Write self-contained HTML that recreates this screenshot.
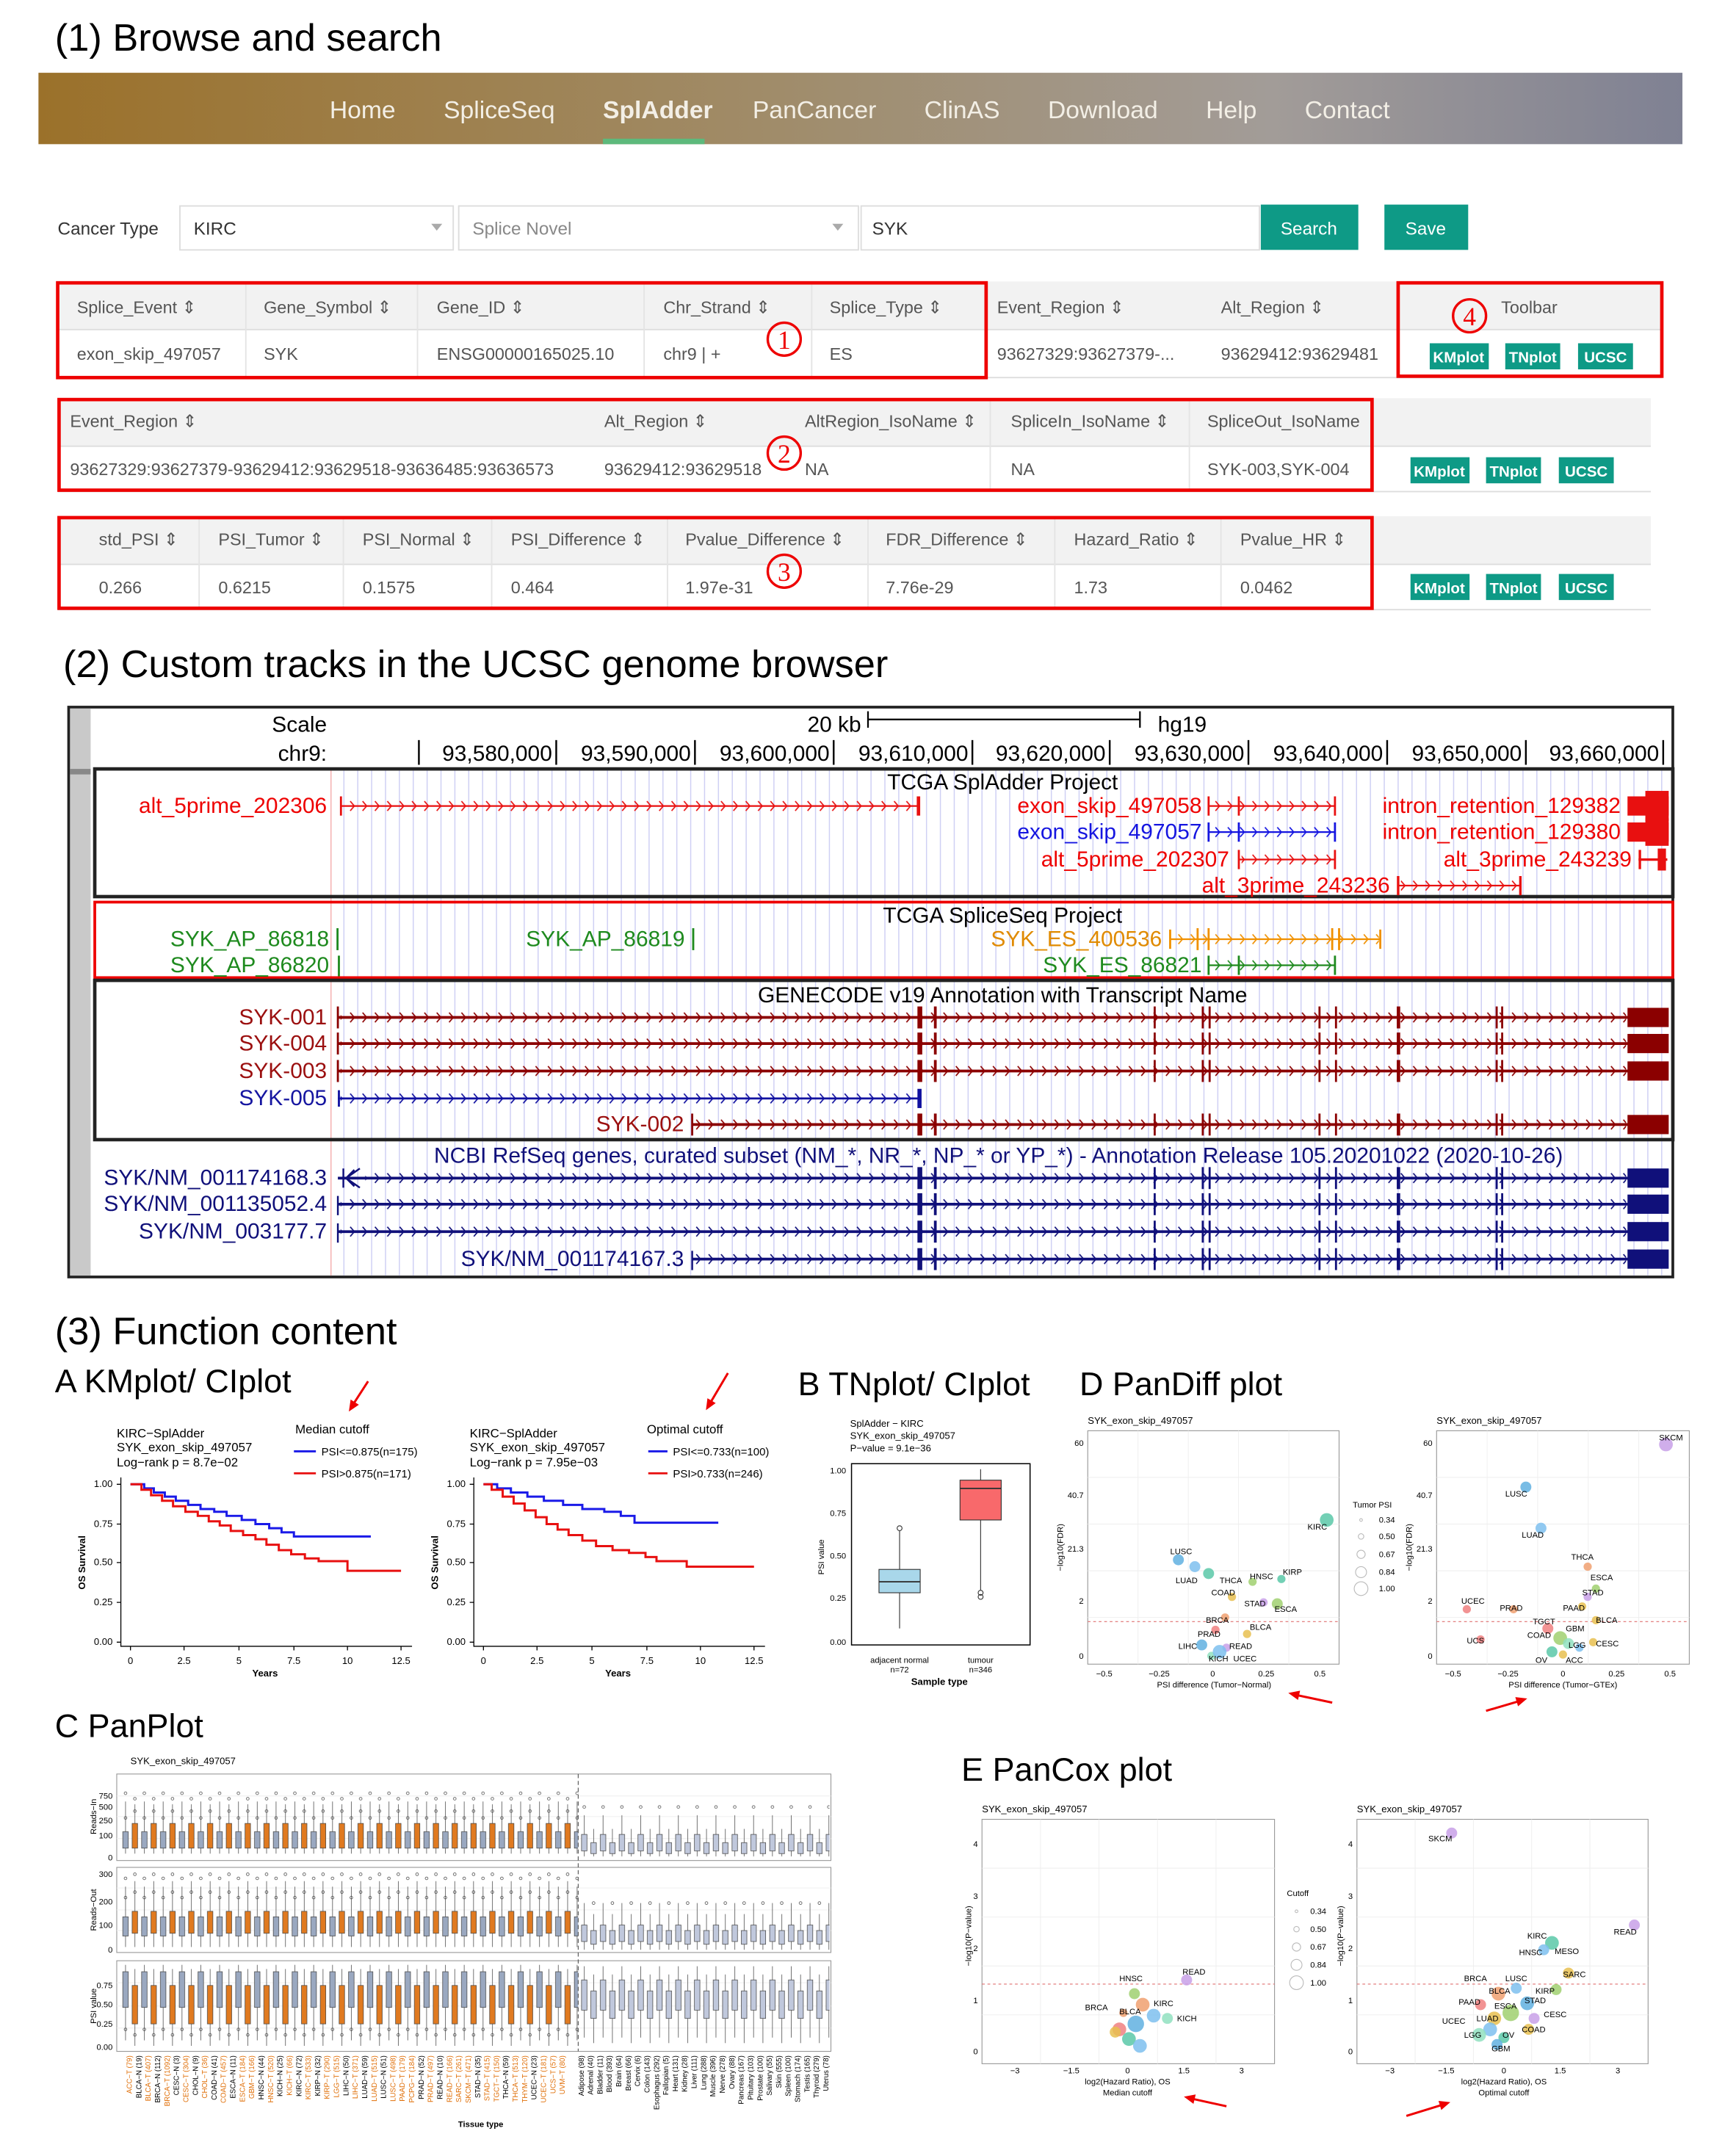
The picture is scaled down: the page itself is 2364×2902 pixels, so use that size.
<!DOCTYPE html>
<html><head><meta charset="utf-8"><style>
html,body{margin:0;padding:0;background:#fff}
svg{display:block}
text{font-family:"Liberation Sans",Arial,sans-serif}
.tt{font-size:28px;fill:#000}
.nav{font-size:18px;fill:#f3efe6}
.th{font-size:12.5px;fill:#555}
.td{font-size:12.5px;fill:#555}
.bt{font-size:11px;fill:#fff;font-weight:bold;text-anchor:middle}
.u{font-size:16px}
.s9{font-size:9px}
.s7{font-size:7px}
.s6{font-size:6px}
</style></head><body>
<svg xmlns="http://www.w3.org/2000/svg" xmlns:xlink="http://www.w3.org/1999/xlink" width="2364" height="2902" viewBox="0 0 1264 1552" preserveAspectRatio="none">
<defs>
<linearGradient id="ng" x1="0" x2="1" y1="0" y2="0">
<stop offset="0" stop-color="#9b712a"/><stop offset="0.45" stop-color="#a08c6a"/><stop offset="0.75" stop-color="#a29c98"/><stop offset="1" stop-color="#7f8193"/></linearGradient>
<pattern id="vl" x="250" y="0" width="10.1" height="20" patternUnits="userSpaceOnUse"><rect x="0" y="0" width="0.8" height="20" fill="#cfd0f4"/></pattern>
<pattern id="cR" width="9" height="20" patternUnits="userSpaceOnUse"><path d="M3 6.5L6 10L3 13.5" stroke="#e81010" fill="none" stroke-width="0.9"/></pattern>
<pattern id="cB" width="9" height="20" patternUnits="userSpaceOnUse"><path d="M3 6.5L6 10L3 13.5" stroke="#1515e0" fill="none" stroke-width="0.9"/></pattern>
<pattern id="cO" width="9" height="20" patternUnits="userSpaceOnUse"><path d="M3 6.5L6 10L3 13.5" stroke="#f09000" fill="none" stroke-width="0.9"/></pattern>
<pattern id="cG" width="9" height="20" patternUnits="userSpaceOnUse"><path d="M3 6.5L6 10L3 13.5" stroke="#1e8a1e" fill="none" stroke-width="0.9"/></pattern>
<pattern id="cD" width="9" height="20" patternUnits="userSpaceOnUse"><path d="M3 6.5L6 10L3 13.5" stroke="#8b0000" fill="none" stroke-width="0.9"/></pattern>
<pattern id="cN" width="9" height="20" patternUnits="userSpaceOnUse"><path d="M3 6.5L6 10L3 13.5" stroke="#10107a" fill="none" stroke-width="0.9"/></pattern>
<pattern id="cV" width="9" height="20" patternUnits="userSpaceOnUse"><path d="M3 6.5L6 10L3 13.5" stroke="#1010a0" fill="none" stroke-width="0.9"/></pattern>
<g id="exr">
<rect x="668" y="-8" width="3.5" height="16"/><rect x="680" y="-8" width="2" height="16"/><rect x="840" y="-8" width="1.5" height="16"/><rect x="875" y="-8" width="1.5" height="16"/><rect x="880" y="-8" width="1.5" height="16"/><rect x="960" y="-8" width="1.5" height="16"/><rect x="972" y="-8" width="1.5" height="16"/><rect x="1017" y="-8" width="2.5" height="16"/><rect x="1089" y="-8" width="1.5" height="16"/><rect x="1093" y="-8" width="1.5" height="16"/><rect x="1185" y="-7" width="30" height="14"/>
</g>
<!-- panplot patterns -->
<pattern id="p1" x="88" y="1292" width="13.7" height="63" patternUnits="userSpaceOnUse">
<path d="M3.4 20V58M10.2 22V58" stroke="#444" stroke-width="0.4"/>
<rect x="1.4" y="42" width="4" height="12" fill="#9aa8c0" stroke="#444" stroke-width="0.4"/>
<rect x="8.2" y="36" width="4" height="18" fill="#e07a20" stroke="#444" stroke-width="0.4"/>
<g fill="none" stroke="#444" stroke-width="0.4"><circle cx="3.4" cy="32" r="1"/><circle cx="3.4" cy="14" r="1"/><circle cx="10.2" cy="18" r="1"/><circle cx="10.2" cy="27" r="1"/></g>
</pattern>
<pattern id="p2" x="88" y="1360" width="13.7" height="62" patternUnits="userSpaceOnUse">
<path d="M3.4 14V58M10.2 10V58" stroke="#444" stroke-width="0.4"/>
<rect x="1.4" y="36" width="4" height="14" fill="#9aa8c0" stroke="#444" stroke-width="0.4"/>
<rect x="8.2" y="32" width="4" height="16" fill="#e07a20" stroke="#444" stroke-width="0.4"/>
<g fill="none" stroke="#444" stroke-width="0.4"><circle cx="3.4" cy="8" r="1"/><circle cx="3.4" cy="22" r="1"/><circle cx="10.2" cy="5" r="1"/><circle cx="10.2" cy="18" r="1"/></g>
</pattern>
<pattern id="p3" x="88" y="1428" width="13.7" height="66" patternUnits="userSpaceOnUse">
<path d="M3.4 3V58M10.2 6V62" stroke="#444" stroke-width="0.4"/>
<rect x="1.4" y="8" width="4" height="26" fill="#9aa8c0" stroke="#444" stroke-width="0.4"/>
<rect x="8.2" y="18" width="4" height="28" fill="#e07a20" stroke="#444" stroke-width="0.4"/>
<g fill="none" stroke="#444" stroke-width="0.4"><circle cx="3.4" cy="50" r="1"/><circle cx="10.2" cy="54" r="1"/></g>
</pattern>
<pattern id="g1" x="422" y="1292" width="13.7" height="63" patternUnits="userSpaceOnUse">
<path d="M3.4 30V60M10.2 40V60" stroke="#444" stroke-width="0.4"/>
<rect x="1.4" y="44" width="4" height="12" fill="#c0c8dc" stroke="#444" stroke-width="0.4"/>
<rect x="8.2" y="50" width="4" height="8" fill="#c0c8dc" stroke="#444" stroke-width="0.4"/>
<circle cx="3.4" cy="24" r="1" fill="none" stroke="#444" stroke-width="0.4"/>
</pattern>
<pattern id="g2" x="422" y="1360" width="13.7" height="62" patternUnits="userSpaceOnUse">
<path d="M3.4 26V60M10.2 34V60" stroke="#444" stroke-width="0.4"/>
<rect x="1.4" y="42" width="4" height="12" fill="#c0c8dc" stroke="#444" stroke-width="0.4"/>
<rect x="8.2" y="46" width="4" height="10" fill="#c0c8dc" stroke="#444" stroke-width="0.4"/>
<circle cx="10.2" cy="26" r="1" fill="none" stroke="#444" stroke-width="0.4"/>
</pattern>
<pattern id="g3" x="422" y="1428" width="13.7" height="66" patternUnits="userSpaceOnUse">
<path d="M3.4 4V56M10.2 10V60" stroke="#444" stroke-width="0.4"/>
<rect x="1.4" y="14" width="4" height="22" fill="#c0c8dc" stroke="#444" stroke-width="0.4"/>
<rect x="8.2" y="22" width="4" height="20" fill="#c0c8dc" stroke="#444" stroke-width="0.4"/>
</pattern>
</defs>
<rect width="1264" height="1552" fill="#fff"/>
<text class="tt" x="40" y="37">(1)  Browse and search</text>
<rect x="28" y="53" width="1197" height="52" fill="url(#ng)"/>
<text class="nav" x="240" y="86">Home</text>
<text class="nav" x="323" y="86">SpliceSeq</text>
<text class="nav" x="439" y="86" font-weight="bold" fill="#fff">SplAdder</text>
<rect x="439" y="101" width="74" height="4" fill="#5db97c"/>
<text class="nav" x="548" y="86">PanCancer</text>
<text class="nav" x="673" y="86">ClinAS</text>
<text class="nav" x="763" y="86">Download</text>
<text class="nav" x="878" y="86">Help</text>
<text class="nav" x="950" y="86">Contact</text>

<text x="42" y="171" font-size="13" fill="#333">Cancer Type</text>
<rect x="131" y="150" width="199" height="32" fill="#fff" stroke="#ddd"/>
<rect x="334" y="150" width="291" height="32" fill="#fff" stroke="#ddd"/>
<rect x="627" y="150" width="290" height="32" fill="#fff" stroke="#ddd"/>
<text x="141" y="171" font-size="13" fill="#333">KIRC</text>
<text x="344" y="171" font-size="13" fill="#888">Splice Novel</text>
<text x="635" y="171" font-size="13" fill="#333">SYK</text>
<path d="M314 163 h8 l-4 5z M606 163 h8 l-4 5z" fill="#aaa"/>
<rect x="918" y="149" width="71" height="33" fill="#0e9a86"/>
<text x="953" y="171" font-size="13" fill="#fff" text-anchor="middle">Search</text>
<rect x="1008" y="149" width="61" height="33" fill="#0e9a86"/>
<text x="1038" y="171" font-size="13" fill="#fff" text-anchor="middle">Save</text>

<!-- table 1 -->
<rect x="42" y="205" width="1168" height="35" fill="#f2f2f2"/>
<line x1="42" y1="240" x2="1210" y2="240" stroke="#ddd"/>
<line x1="42" y1="275" x2="1210" y2="275" stroke="#ddd"/>
<g stroke="#e4e4e4"><line x1="179" y1="205" x2="179" y2="275"/><line x1="304" y1="205" x2="304" y2="275"/><line x1="469" y1="205" x2="469" y2="275"/><line x1="591" y1="205" x2="591" y2="275"/></g>
<text class="th" x="56" y="228">Splice_Event  ⇕</text>
<text class="th" x="192" y="228">Gene_Symbol  ⇕</text>
<text class="th" x="318" y="228">Gene_ID  ⇕</text>
<text class="th" x="483" y="228">Chr_Strand  ⇕</text>
<text class="th" x="604" y="228">Splice_Type  ⇕</text>
<text class="th" x="726" y="228">Event_Region  ⇕</text>
<text class="th" x="889" y="228">Alt_Region  ⇕</text>
<text class="th" x="1093" y="228">Toolbar</text>
<text class="td" x="56" y="262">exon_skip_497057</text>
<text class="td" x="192" y="262" fill="#2a8de0">SYK</text>
<text class="td" x="318" y="262">ENSG00000165025.10</text>
<text class="td" x="483" y="262">chr9 | +</text>
<text class="td" x="604" y="262">ES</text>
<text class="td" x="726" y="262">93627329:93627379-...</text>
<text class="td" x="889" y="262">93629412:93629481</text>
<rect x="42" y="206" width="676" height="69" fill="none" stroke="#e00" stroke-width="2.5"/>
<rect x="1018" y="206" width="192" height="68" fill="none" stroke="#e00" stroke-width="2.5"/>

<!-- table 2 -->
<rect x="42" y="290" width="1160" height="35" fill="#f2f2f2"/>
<line x1="42" y1="325" x2="1202" y2="325" stroke="#ddd"/>
<line x1="42" y1="358" x2="1202" y2="358" stroke="#ddd"/>
<g stroke="#e4e4e4"><line x1="721" y1="290" x2="721" y2="357"/><line x1="866" y1="290" x2="866" y2="357"/></g>
<text class="th" x="51" y="311">Event_Region  ⇕</text>
<text class="th" x="440" y="311">Alt_Region  ⇕</text>
<text class="th" x="586" y="311">AltRegion_IsoName  ⇕</text>
<text class="th" x="736" y="311">SpliceIn_IsoName  ⇕</text>
<text class="th" x="879" y="311">SpliceOut_IsoName</text>
<text class="td" x="51" y="346">93627329:93627379-93629412:93629518-93636485:93636573</text>
<text class="td" x="440" y="346">93629412:93629518</text>
<text class="td" x="586" y="346">NA</text>
<text class="td" x="736" y="346">NA</text>
<text class="td" x="879" y="346">SYK-003,SYK-004</text>
<rect x="43" y="291" width="956" height="66" fill="none" stroke="#e00" stroke-width="2.5"/>

<!-- table 3 -->
<rect x="42" y="376" width="1160" height="35" fill="#f2f2f2"/>
<line x1="42" y1="411" x2="1202" y2="411" stroke="#ddd"/>
<line x1="42" y1="444" x2="1202" y2="444" stroke="#ddd"/>
<g stroke="#e4e4e4"><line x1="145" y1="376" x2="145" y2="443"/><line x1="250" y1="376" x2="250" y2="443"/><line x1="358" y1="376" x2="358" y2="443"/><line x1="486" y1="376" x2="486" y2="443"/><line x1="632" y1="376" x2="632" y2="443"/><line x1="768" y1="376" x2="768" y2="443"/><line x1="889" y1="376" x2="889" y2="443"/></g>
<text class="th" x="72" y="397">std_PSI  ⇕</text>
<text class="th" x="159" y="397">PSI_Tumor  ⇕</text>
<text class="th" x="264" y="397">PSI_Normal  ⇕</text>
<text class="th" x="372" y="397">PSI_Difference  ⇕</text>
<text class="th" x="499" y="397">Pvalue_Difference  ⇕</text>
<text class="th" x="645" y="397">FDR_Difference  ⇕</text>
<text class="th" x="782" y="397">Hazard_Ratio  ⇕</text>
<text class="th" x="903" y="397">Pvalue_HR  ⇕</text>
<text class="td" x="72" y="432">0.266</text>
<text class="td" x="159" y="432">0.6215</text>
<text class="td" x="264" y="432">0.1575</text>
<text class="td" x="372" y="432">0.464</text>
<text class="td" x="499" y="432">1.97e-31</text>
<text class="td" x="645" y="432">7.76e-29</text>
<text class="td" x="782" y="432">1.73</text>
<text class="td" x="903" y="432">0.0462</text>
<rect x="43" y="377" width="956" height="66" fill="none" stroke="#e00" stroke-width="2.5"/>

<g fill="#0e9a86">
<rect x="1041" y="250" width="43" height="19"/><rect x="1096" y="250" width="40" height="19"/><rect x="1149" y="250" width="40" height="19"/>
<rect x="1027" y="333" width="43" height="19"/><rect x="1082" y="333" width="40" height="19"/><rect x="1135" y="333" width="40" height="19"/>
<rect x="1027" y="418" width="43" height="19"/><rect x="1082" y="418" width="40" height="19"/><rect x="1135" y="418" width="40" height="19"/>
</g>
<text class="bt" x="1062" y="264">KMplot</text><text class="bt" x="1116" y="264">TNplot</text><text class="bt" x="1169" y="264">UCSC</text>
<text class="bt" x="1048" y="347">KMplot</text><text class="bt" x="1102" y="347">TNplot</text><text class="bt" x="1155" y="347">UCSC</text>
<text class="bt" x="1048" y="432">KMplot</text><text class="bt" x="1102" y="432">TNplot</text><text class="bt" x="1155" y="432">UCSC</text>

<g fill="none" stroke="#e00" stroke-width="1.8">
<circle cx="571" cy="247" r="12"/><circle cx="571" cy="330" r="12"/><circle cx="571" cy="416" r="12"/><circle cx="1070" cy="230" r="12"/>
<circle cx="100" cy="608" r="12"/><circle cx="100" cy="686" r="12"/><circle cx="100" cy="762" r="12"/>
</g>
<g fill="#e00" font-size="19" text-anchor="middle">
<text x="571" y="254" style="font-family:'Liberation Serif',serif">1</text><text x="571" y="337" style="font-family:'Liberation Serif',serif">2</text><text x="571" y="423" style="font-family:'Liberation Serif',serif">3</text><text x="1070" y="237" style="font-family:'Liberation Serif',serif">4</text>
<text x="100" y="615" style="font-family:'Liberation Serif',serif">5</text><text x="100" y="693" style="font-family:'Liberation Serif',serif">6</text><text x="100" y="769" style="font-family:'Liberation Serif',serif">7</text>
</g>

<text class="tt" x="46" y="493">(2)  Custom tracks in the UCSC genome browser</text>

<!-- UCSC -->
<rect x="50" y="515" width="1168" height="415" fill="#fff" stroke="#222" stroke-width="2"/>
<rect x="51" y="516" width="15" height="413" fill="#c9c9c9"/>
<rect x="242" y="560" width="975" height="369" fill="url(#vl)"/>
<line x1="241" y1="560" x2="241" y2="929" stroke="#f4b0b0" stroke-width="0.8"/>
<text class="u" x="238" y="533" text-anchor="end">Scale</text>
<text class="u" x="238" y="554" text-anchor="end">chr9:</text>
<text class="u" x="627" y="533" text-anchor="end">20 kb</text>
<path d="M632 518v12M632 524H830M830 518v12" stroke="#000" stroke-width="1.2"/>
<text class="u" x="843" y="533">hg19</text>
<g class="u" text-anchor="end">
<text x="402" y="554">93,580,000</text><text x="503" y="554">93,590,000</text><text x="604" y="554">93,600,000</text><text x="705" y="554">93,610,000</text><text x="805" y="554">93,620,000</text><text x="906" y="554">93,630,000</text><text x="1007" y="554">93,640,000</text><text x="1108" y="554">93,650,000</text><text x="1208" y="554">93,660,000</text>
</g>
<g stroke="#000" stroke-width="1.3"><line x1="305" y1="539" x2="305" y2="557"/><line x1="405" y1="539" x2="405" y2="557"/><line x1="506" y1="539" x2="506" y2="557"/><line x1="607" y1="539" x2="607" y2="557"/><line x1="708" y1="539" x2="708" y2="557"/><line x1="808" y1="539" x2="808" y2="557"/><line x1="909" y1="539" x2="909" y2="557"/><line x1="1010" y1="539" x2="1010" y2="557"/><line x1="1111" y1="539" x2="1111" y2="557"/><line x1="1211" y1="539" x2="1211" y2="557"/></g>
<rect x="51" y="560" width="15" height="4" fill="#888"/>
<rect x="69" y="560" width="1149" height="93" fill="none" stroke="#222" stroke-width="2.5"/>
<rect x="69" y="657" width="1149" height="55" fill="none" stroke="#e00" stroke-width="2"/>
<rect x="69" y="714" width="1149" height="116" fill="none" stroke="#222" stroke-width="2.5"/>
<text class="u" x="730" y="575" text-anchor="middle">TCGA SplAdder Project</text>
<text class="u" x="730" y="672" text-anchor="middle">TCGA SpliceSeq Project</text>
<text class="u" x="730" y="730" text-anchor="middle">GENECODE v19 Annotation with Transcript Name</text>
<text class="u" x="727" y="847" text-anchor="middle" fill="#10107a">NCBI RefSeq genes, curated subset (NM_*, NR_*, NP_* or YP_*) - Annotation Release 105.20201022 (2020-10-26)</text>
<g class="u" text-anchor="end" fill="#e00">
<text x="238" y="592">alt_5prime_202306</text>
<text x="875" y="592">exon_skip_497058</text>
<text x="875" y="611" fill="#1515e0">exon_skip_497057</text>
<text x="895" y="631">alt_5prime_202307</text>
<text x="1012" y="650">alt_3prime_243236</text>
<text x="1180" y="592">intron_retention_129382</text>
<text x="1180" y="611">intron_retention_129380</text>
<text x="1188" y="631">alt_3prime_243239</text>
<text x="846" y="689" fill="#e08a00">SYK_ES_400536</text>
<text x="875" y="708" fill="#1e8a1e">SYK_ES_86821</text>
<text x="238" y="746" fill="#9b0f0f">SYK-001</text>
<text x="238" y="765" fill="#9b0f0f">SYK-004</text>
<text x="238" y="785" fill="#9b0f0f">SYK-003</text>
<text x="238" y="805" fill="#1515a0">SYK-005</text>
<text x="498" y="824" fill="#9b0f0f">SYK-002</text>
<text x="238" y="863" fill="#10107a">SYK/NM_001174168.3</text>
<text x="238" y="882" fill="#10107a">SYK/NM_001135052.4</text>
<text x="238" y="902" fill="#10107a">SYK/NM_003177.7</text>
<text x="498" y="922" fill="#10107a">SYK/NM_001174167.3</text>
</g>
<g class="u" fill="#1e8a1e">
<text x="124" y="689">SYK_AP_86818</text><text x="383" y="689">SYK_AP_86819</text><text x="124" y="708">SYK_AP_86820</text>
</g>
<!-- tracks -->
<g transform="translate(0,577)"><line x1="248" y1="10" x2="669" y2="10" stroke="#e81010" stroke-width="1.2"/><rect x="250" y="0" width="416" height="20" fill="url(#cR)"/><rect x="247.5" y="3" width="1.5" height="14" fill="#e81010"/><rect x="667.5" y="3" width="2.5" height="14" fill="#e81010"/></g>
<g transform="translate(0,577)"><line x1="880" y1="10" x2="972" y2="10" stroke="#e81010" stroke-width="1.2"/><rect x="883" y="0" width="88" height="20" fill="url(#cR)"/><path d="M880 3v14M902 3v14M972 3v14" stroke="#e81010" stroke-width="1.5"/></g>
<g transform="translate(0,596)"><line x1="880" y1="10" x2="972" y2="10" stroke="#1515e0" stroke-width="1.2"/><rect x="883" y="0" width="88" height="20" fill="url(#cB)"/><path d="M880 3v14M902 3v14M972 3v14" stroke="#1515e0" stroke-width="1.5"/></g>
<g transform="translate(0,616)"><line x1="902" y1="10" x2="972" y2="10" stroke="#e81010" stroke-width="1.2"/><rect x="904" y="0" width="67" height="20" fill="url(#cR)"/><path d="M902 3v14M972 3v14" stroke="#e81010" stroke-width="1.5"/></g>
<g transform="translate(0,635)"><line x1="1018" y1="10" x2="1107" y2="10" stroke="#e81010" stroke-width="1.2"/><rect x="1020" y="0" width="86" height="20" fill="url(#cR)"/><path d="M1018 3v14M1107 3v14" stroke="#e81010" stroke-width="1.8"/></g>
<rect x="1185" y="580" width="30" height="14" fill="#e81010"/><rect x="1198" y="576" width="17" height="22" fill="#e81010"/>
<rect x="1185" y="599" width="30" height="14" fill="#e81010"/><rect x="1198" y="596" width="17" height="20" fill="#e81010"/>
<path d="M1193 626H1214M1194 619v14" stroke="#e81010" stroke-width="1.8"/><rect x="1207" y="618" width="6" height="16" fill="#e81010"/>
<rect x="245" y="676" width="1.5" height="16" fill="#1e8a1e"/><rect x="504" y="676" width="1.5" height="16" fill="#1e8a1e"/><rect x="246" y="696" width="1.5" height="15" fill="#1e8a1e"/>
<g transform="translate(0,674)"><line x1="852" y1="10" x2="1005" y2="10" stroke="#f09000" stroke-width="1.2"/><rect x="854" y="0" width="150" height="20" fill="url(#cO)"/><path d="M852 3v14M872 2v16M880 2v16M970 2v16M975 2v16M1005 3v14" stroke="#f09000" stroke-width="1.5"/></g>
<g transform="translate(0,693)"><line x1="880" y1="10" x2="972" y2="10" stroke="#1e8a1e" stroke-width="1.2"/><rect x="883" y="0" width="88" height="20" fill="url(#cG)"/><path d="M880 3v14M902 3v14M972 3v14" stroke="#1e8a1e" stroke-width="1.5"/></g>
<g transform="translate(0,731)"><line x1="246" y1="10" x2="1186" y2="10" stroke="#8b0000" stroke-width="2"/><rect x="248" y="0" width="936" height="20" fill="url(#cD)"/></g>
<g transform="translate(0,750)"><line x1="246" y1="10" x2="1186" y2="10" stroke="#8b0000" stroke-width="2"/><rect x="248" y="0" width="936" height="20" fill="url(#cD)"/></g>
<g transform="translate(0,770)"><line x1="246" y1="10" x2="1186" y2="10" stroke="#8b0000" stroke-width="2"/><rect x="248" y="0" width="936" height="20" fill="url(#cD)"/></g>
<g transform="translate(0,790)"><line x1="246" y1="10" x2="670" y2="10" stroke="#1010a0" stroke-width="1.5"/><rect x="248" y="0" width="420" height="20" fill="url(#cV)"/><rect x="668" y="3" width="3" height="14" fill="#1010a0"/><rect x="246" y="4" width="1.5" height="12" fill="#1010a0"/></g>
<g transform="translate(0,809)"><line x1="504" y1="10" x2="1186" y2="10" stroke="#8b0000" stroke-width="2"/><rect x="506" y="0" width="678" height="20" fill="url(#cD)"/></g>
<g fill="#8b0000"><use xlink:href="#exr" href="#exr" y="741"/><use xlink:href="#exr" href="#exr" y="760"/><use xlink:href="#exr" href="#exr" y="780"/><use xlink:href="#exr" href="#exr" y="819"/></g>
<path d="M246 733v16M246 752v16M246 772v16M504 811v16" stroke="#8b0000" stroke-width="1.5"/>
<g transform="translate(0,848)"><line x1="246" y1="10" x2="1186" y2="10" stroke="#10107a" stroke-width="2"/><rect x="266" y="0" width="918" height="20" fill="url(#cN)"/></g>
<g transform="translate(0,867)"><line x1="246" y1="10" x2="1186" y2="10" stroke="#10107a" stroke-width="2"/><rect x="248" y="0" width="936" height="20" fill="url(#cN)"/></g>
<g transform="translate(0,887)"><line x1="246" y1="10" x2="1186" y2="10" stroke="#10107a" stroke-width="2"/><rect x="248" y="0" width="936" height="20" fill="url(#cN)"/></g>
<g transform="translate(0,907)"><line x1="504" y1="10" x2="1186" y2="10" stroke="#10107a" stroke-width="2"/><rect x="506" y="0" width="678" height="20" fill="url(#cN)"/></g>
<g fill="#10107a"><use xlink:href="#exr" href="#exr" y="858"/><use xlink:href="#exr" href="#exr" y="877"/><use xlink:href="#exr" href="#exr" y="897"/><use xlink:href="#exr" href="#exr" y="917"/></g>
<path d="M250 851v14M262 851l-10 7l10 7M258 852l-6 6l6 6M246 871v14M246 891v14M504 911v14" stroke="#10107a" fill="none" stroke-width="1.3"/>

<text class="tt" x="40" y="979">(3)  Function content</text>
<text x="40" y="1014" font-size="24">A  KMplot/ CIplot</text>
<text x="581" y="1016" font-size="24">B  TNplot/ CIplot</text>
<text x="786" y="1016" font-size="24">D  PanDiff plot</text>
<text x="40" y="1265" font-size="24">C   PanPlot</text>
<text x="700" y="1297" font-size="24">E  PanCox plot</text>

<!-- KM -->
<g class="s9">
<text x="85" y="1047">KIRC−SplAdder</text><text x="85" y="1057">SYK_exon_skip_497057</text><text x="85" y="1068">Log−rank p = 8.7e−02</text>
<text x="215" y="1044">Median cutoff</text><text x="234" y="1060" font-size="8">PSI&lt;=0.875(n=175)</text><text x="234" y="1076" font-size="8">PSI&gt;0.875(n=171)</text>
<text x="342" y="1047">KIRC−SplAdder</text><text x="342" y="1057">SYK_exon_skip_497057</text><text x="342" y="1068">Log−rank p = 7.95e−03</text>
<text x="471" y="1044">Optimal cutoff</text><text x="490" y="1060" font-size="8">PSI&lt;=0.733(n=100)</text><text x="490" y="1076" font-size="8">PSI&gt;0.733(n=246)</text>
</g>
<path d="M214 1057H230M472 1057H486" stroke="#1a1ae8" stroke-width="1.5"/><path d="M214 1073H230M472 1073H486" stroke="#e81010" stroke-width="1.5"/>
<g class="s7" text-anchor="end">
<text x="82" y="1083">1.00</text><text x="82" y="1112">0.75</text><text x="82" y="1140">0.50</text><text x="82" y="1169">0.25</text><text x="82" y="1198">0.00</text>
<text x="339" y="1083">1.00</text><text x="339" y="1112">0.75</text><text x="339" y="1140">0.50</text><text x="339" y="1169">0.25</text><text x="339" y="1198">0.00</text>
</g>
<g class="s7" text-anchor="middle">
<text x="95" y="1212">0</text><text x="134" y="1212">2.5</text><text x="174" y="1212">5</text><text x="214" y="1212">7.5</text><text x="253" y="1212">10</text><text x="292" y="1212">12.5</text>
<text x="352" y="1212">0</text><text x="391" y="1212">2.5</text><text x="431" y="1212">5</text><text x="471" y="1212">7.5</text><text x="510" y="1212">10</text><text x="549" y="1212">12.5</text>
<text x="193" y="1221" font-weight="bold">Years</text><text x="450" y="1221" font-weight="bold">Years</text>
<text transform="translate(62,1138) rotate(-90)" font-weight="bold">OS Survival</text>
<text transform="translate(319,1138) rotate(-90)" font-weight="bold">OS Survival</text>
</g>
<g stroke="#000" stroke-width="0.7" fill="none">
<path d="M88 1076V1199H300M85 1081h3M85 1110h3M85 1138h3M85 1167h3M85 1196h3M95 1199v3M134 1199v3M174 1199v3M214 1199v3M253 1199v3M292 1199v3"/>
<path d="M345 1076V1199H557M342 1081h3M342 1110h3M342 1138h3M342 1167h3M342 1196h3M352 1199v3M391 1199v3M431 1199v3M471 1199v3M510 1199v3M549 1199v3"/>
</g>
<g fill="none" stroke-width="1.6">
<path stroke="#1a1ae8" d="M95 1081H105V1084H112V1087H120V1090H128V1093H137V1096H146V1099H156V1101H165V1104H176V1107H186V1110H196V1113H205V1116H214V1119H270"/>
<path stroke="#e81010" d="M95 1081H103V1085H110V1089H118V1093H126V1097H135V1101H144V1104H152V1108H160V1111H168V1115H177V1118H186V1121H194V1125H203V1129H212V1132H222V1135H232V1137H253V1144H292"/>
<path stroke="#1a1ae8" d="M352 1081H362V1084H372V1087H384V1090H396V1093H410V1096H424V1099H440V1101H452V1104H462V1109H523"/>
<path stroke="#e81010" d="M352 1081H358V1085H366V1090H374V1095H382V1100H390V1105H398V1110H406V1114H414V1118H424V1122H434V1126H446V1129H458V1131H470V1134H478V1137H500V1141H549"/>
</g>
<!-- arrows -->
<g stroke="#e00" stroke-width="1.6"><path d="M268 1006L257 1023M530 1000L517 1022M970 1240L944 1234.5M1082 1246L1106 1239M893 1534L868 1528.5M1024 1541L1050 1533"/></g>
<g fill="#e00"><polygon points="254,1028 261.3,1023.1 255.3,1019.3"/><polygon points="514,1027 521.1,1021.9 515.1,1018.3"/><polygon points="938,1233 946.6,1231.3 945.1,1238.1"/><polygon points="1112,1237 1105.3,1242.7 1103.3,1236"/><polygon points="862,1527 870.6,1525.4 869,1532.2"/><polygon points="1056,1531 1049.4,1536.7 1047.4,1530.1"/></g>

<!-- TN -->
<g class="s7">
<text x="619" y="1039">SplAdder − KIRC</text><text x="619" y="1048">SYK_exon_skip_497057</text><text x="619" y="1057">P−value = 9.1e−36</text>
<text x="655" y="1211" text-anchor="middle" font-size="6">adjacent normal</text><text x="655" y="1218" text-anchor="middle" font-size="6">n=72</text>
<text x="714" y="1211" text-anchor="middle" font-size="6">tumour</text><text x="714" y="1218" text-anchor="middle" font-size="6">n=346</text>
<text x="684" y="1227" text-anchor="middle" font-weight="bold">Sample type</text>
<text transform="translate(600,1134) rotate(-90)" text-anchor="middle" font-size="6">PSI value</text>
</g>
<g class="s6" text-anchor="end"><text x="616" y="1073">1.00</text><text x="616" y="1104">0.75</text><text x="616" y="1135">0.50</text><text x="616" y="1166">0.25</text><text x="616" y="1198">0.00</text></g>
<rect x="620" y="1066" width="130" height="132" fill="none" stroke="#000" stroke-width="0.8"/>
<path d="M655 1115V1186M714 1070V1158" stroke="#333" stroke-width="0.6"/>
<rect x="640" y="1143" width="30" height="17" fill="#a9d7ea" stroke="#333" stroke-width="0.6"/><line x1="640" y1="1152" x2="670" y2="1152" stroke="#333"/>
<rect x="699" y="1078" width="30" height="29" fill="#f8696b" stroke="#333" stroke-width="0.6"/><line x1="699" y1="1084" x2="729" y2="1084" stroke="#333"/>
<g fill="none" stroke="#333" stroke-width="0.6"><circle cx="655" cy="1113" r="1.8"/><circle cx="714" cy="1160" r="1.8"/><circle cx="714" cy="1163" r="1.8"/></g>

<!-- scatter panels -->
<g fill="#fff" stroke="#999" stroke-width="0.6"><rect x="792" y="1042" width="183" height="170"/><rect x="1046" y="1042" width="184" height="170"/><rect x="715" y="1325" width="213" height="178"/><rect x="988" y="1325" width="212" height="178"/></g>
<g stroke="#eee" stroke-width="0.5">
<path d="M828.6 1042v170M865.2 1042v170M901.8 1042v170M938.4 1042v170M792 1076h183M792 1110h183M792 1144h183M792 1178h183"/>
<path d="M1082.8 1042v170M1119.6 1042v170M1156.4 1042v170M1193.2 1042v170M1046 1076h184M1046 1110h184M1046 1144h184M1046 1178h184"/>
<path d="M757.6 1325v178M800.2 1325v178M842.8 1325v178M885.4 1325v178M715 1360.6h213M715 1396.2h213M715 1431.8h213M715 1467.4h213"/>
<path d="M1030.4 1325v178M1072.8 1325v178M1115.2 1325v178M1157.6 1325v178M988 1360.6h212M988 1396.2h212M988 1431.8h212M988 1467.4h212"/>
</g>
<g stroke="#e07070" stroke-dasharray="2,2" stroke-width="0.6"><path d="M792 1181H975M1046 1181H1230M715 1445H928M988 1445H1200"/></g>
<g fill-opacity="0.85">
<circle cx="966" cy="1107" r="5" fill="#5bc8a8"/><circle cx="870" cy="1141" r="4" fill="#7ec0ee"/><circle cx="858" cy="1136" r="4" fill="#60b0e0"/><circle cx="880" cy="1146" r="4" fill="#5bc8a8"/><circle cx="912" cy="1152" r="3" fill="#a0d070"/><circle cx="933" cy="1150" r="3" fill="#5bc8a8"/><circle cx="897" cy="1163" r="3" fill="#e8c050"/><circle cx="920" cy="1167" r="3" fill="#c8a0e8"/><circle cx="930" cy="1168" r="4" fill="#a0d070"/><circle cx="892" cy="1178" r="3" fill="#f0a070"/><circle cx="885" cy="1187" r="3" fill="#f08080"/><circle cx="908" cy="1190" r="3" fill="#e8c050"/><circle cx="875" cy="1198" r="4" fill="#60b0e0"/><circle cx="893" cy="1200" r="3" fill="#c8a0e8"/><circle cx="882" cy="1206" r="3" fill="#90e0c0"/><circle cx="888" cy="1203" r="5" fill="#7ec0ee"/>
<circle cx="1213" cy="1052" r="5" fill="#c8a0e8"/><circle cx="1111" cy="1083" r="4" fill="#60b0e0"/><circle cx="1122" cy="1113" r="4" fill="#7ec0ee"/><circle cx="1156" cy="1141" r="3" fill="#f0a070"/><circle cx="1162" cy="1157" r="3" fill="#a0d070"/><circle cx="1156" cy="1163" r="3" fill="#c8a0e8"/><circle cx="1152" cy="1170" r="3" fill="#e8c050"/><circle cx="1068" cy="1172" r="3" fill="#f08080"/><circle cx="1102" cy="1172" r="3" fill="#f0a070"/><circle cx="1162" cy="1180" r="3" fill="#e8c050"/><circle cx="1127" cy="1186" r="4" fill="#f08080"/><circle cx="1136" cy="1193" r="5" fill="#a0d070"/><circle cx="1142" cy="1197" r="4" fill="#90e0c0"/><circle cx="1160" cy="1196" r="3" fill="#e8c050"/><circle cx="1078" cy="1194" r="3" fill="#f08080"/><circle cx="1130" cy="1203" r="4" fill="#5bc8a8"/><circle cx="1138" cy="1205" r="3" fill="#e8c050"/><circle cx="1150" cy="1200" r="3" fill="#7ec0ee"/>
<circle cx="864" cy="1442" r="4" fill="#c8a0e8"/><circle cx="826" cy="1452" r="4" fill="#a0d070"/><circle cx="832" cy="1460" r="5" fill="#f0a070"/><circle cx="840" cy="1468" r="5" fill="#7ec0ee"/><circle cx="827" cy="1474" r="6" fill="#60b0e0"/><circle cx="815" cy="1478" r="5" fill="#f08080"/><circle cx="822" cy="1485" r="5" fill="#5bc8a8"/><circle cx="812" cy="1480" r="4" fill="#e8c050"/><circle cx="850" cy="1470" r="4" fill="#90e0c0"/><circle cx="818" cy="1466" r="3" fill="#f0a070"/><circle cx="830" cy="1490" r="5" fill="#7ec0ee"/>
<circle cx="1057" cy="1335" r="4" fill="#c8a0e8"/><circle cx="1190" cy="1402" r="4" fill="#c8a0e8"/><circle cx="1130" cy="1415" r="5" fill="#5bc8a8"/><circle cx="1124" cy="1420" r="4" fill="#7ec0ee"/><circle cx="1142" cy="1437" r="4" fill="#e8c050"/><circle cx="1104" cy="1448" r="4" fill="#7ec0ee"/><circle cx="1133" cy="1449" r="4" fill="#a0d070"/><circle cx="1091" cy="1452" r="5" fill="#f0a070"/><circle cx="1078" cy="1460" r="4" fill="#f08080"/><circle cx="1112" cy="1459" r="5" fill="#60b0e0"/><circle cx="1100" cy="1466" r="6" fill="#a0d070"/><circle cx="1088" cy="1470" r="5" fill="#e8c050"/><circle cx="1117" cy="1470" r="4" fill="#c8a0e8"/><circle cx="1085" cy="1478" r="5" fill="#7ec0ee"/><circle cx="1077" cy="1482" r="5" fill="#90e0c0"/><circle cx="1095" cy="1484" r="4" fill="#5bc8a8"/><circle cx="1113" cy="1478" r="4" fill="#e8c050"/><circle cx="1090" cy="1489" r="4" fill="#60b0e0"/>
</g>
<g fill="none" stroke="#bbb" stroke-width="0.6">
<circle cx="991" cy="1107" r="1"/><circle cx="991" cy="1119" r="2"/><circle cx="991" cy="1132" r="3"/><circle cx="991" cy="1145" r="4"/><circle cx="991" cy="1157" r="5"/>
<circle cx="944" cy="1392" r="1"/><circle cx="944" cy="1405" r="2"/><circle cx="944" cy="1418" r="3"/><circle cx="944" cy="1431" r="4"/><circle cx="944" cy="1444" r="5"/>
</g>
<g class="s7"><text x="792" y="1037">SYK_exon_skip_497057</text><text x="1046" y="1037">SYK_exon_skip_497057</text>
<text x="884" y="1229" text-anchor="middle" font-size="6">PSI difference (Tumor−Normal)</text>
<text x="1138" y="1229" text-anchor="middle" font-size="6">PSI difference (Tumor−GTEx)</text>
<text x="985" y="1098" font-size="6">Tumor PSI</text>
<text transform="translate(774,1127) rotate(-90)" text-anchor="middle" font-size="6">−log10(FDR)</text>
<text transform="translate(1028,1127) rotate(-90)" text-anchor="middle" font-size="6">−log10(FDR)</text>
<text transform="translate(707,1410) rotate(-90)" text-anchor="middle" font-size="6">−log10(P−value)</text>
<text transform="translate(978,1410) rotate(-90)" text-anchor="middle" font-size="6">−log10(P−value)</text>
<text x="715" y="1320">SYK_exon_skip_497057</text><text x="988" y="1320">SYK_exon_skip_497057</text>
<text x="821" y="1518" text-anchor="middle" font-size="6">log2(Hazard Ratio), OS</text><text x="821" y="1526" text-anchor="middle" font-size="6">Median cutoff</text>
<text x="1095" y="1518" text-anchor="middle" font-size="6">log2(Hazard Ratio), OS</text><text x="1095" y="1526" text-anchor="middle" font-size="6">Optimal cutoff</text>
<text x="937" y="1381" font-size="6">Cutoff</text>
<text x="95" y="1285">SYK_exon_skip_497057</text>
<text x="350" y="1549" text-anchor="middle" font-weight="bold" font-size="6">Tissue type</text>
<text transform="translate(70,1323) rotate(-90)" text-anchor="middle" font-size="6">Reads−In</text>
<text transform="translate(70,1391) rotate(-90)" text-anchor="middle" font-size="6">Reads−Out</text>
<text transform="translate(70,1461) rotate(-90)" text-anchor="middle" font-size="6">PSI value</text>
</g>
<g class="s6">
<text x="852" y="1132">LUSC</text><text x="856" y="1153">LUAD</text><text x="888" y="1153">THCA</text><text x="910" y="1150">HNSC</text><text x="934" y="1147">KIRP</text><text x="882" y="1162">COAD</text><text x="906" y="1170">STAD</text><text x="928" y="1174">ESCA</text><text x="952" y="1114">KIRC</text><text x="878" y="1182">BRCA</text><text x="872" y="1192">PRAD</text><text x="910" y="1187">BLCA</text><text x="858" y="1201">LIHC</text><text x="895" y="1201">READ</text><text x="880" y="1210">KICH</text><text x="898" y="1210">UCEC</text>
<text x="1208" y="1049">SKCM</text><text x="1096" y="1090">LUSC</text><text x="1108" y="1120">LUAD</text><text x="1144" y="1136">THCA</text><text x="1158" y="1151">ESCA</text><text x="1152" y="1162">STAD</text><text x="1138" y="1173">PAAD</text><text x="1064" y="1168">UCEC</text><text x="1092" y="1173">PRAD</text><text x="1162" y="1182">BLCA</text><text x="1116" y="1183">TGCT</text><text x="1112" y="1193">COAD</text><text x="1140" y="1188">GBM</text><text x="1142" y="1200">LGG</text><text x="1162" y="1199">CESC</text><text x="1068" y="1197">UCS</text><text x="1118" y="1211">OV</text><text x="1140" y="1211">ACC</text>
<text x="815" y="1443">HNSC</text><text x="861" y="1438">READ</text><text x="790" y="1464">BRCA</text><text x="815" y="1467">BLCA</text><text x="840" y="1461">KIRC</text><text x="857" y="1472">KICH</text>
<text x="1040" y="1341">SKCM</text><text x="1175" y="1409">READ</text><text x="1112" y="1412">KIRC</text><text x="1106" y="1424">HNSC</text><text x="1132" y="1423">MESO</text><text x="1138" y="1440">SARC</text><text x="1066" y="1443">BRCA</text><text x="1096" y="1443">LUSC</text><text x="1084" y="1452">BLCA</text><text x="1118" y="1452">KIRP</text><text x="1062" y="1460">PAAD</text><text x="1088" y="1463">ESCA</text><text x="1110" y="1459">STAD</text><text x="1124" y="1469">CESC</text><text x="1050" y="1474">UCEC</text><text x="1075" y="1472">LUAD</text><text x="1108" y="1480">COAD</text><text x="1066" y="1484">LGG</text><text x="1094" y="1484">OV</text><text x="1086" y="1494">GBM</text>
</g>
<g class="s6" text-anchor="end">
<text x="789" y="1053">60</text><text x="789" y="1091">40.7</text><text x="789" y="1130">21.3</text><text x="789" y="1168">2</text><text x="789" y="1208">0</text>
<text x="1043" y="1053">60</text><text x="1043" y="1091">40.7</text><text x="1043" y="1130">21.3</text><text x="1043" y="1168">2</text><text x="1043" y="1208">0</text>
<text x="712" y="1345">4</text><text x="712" y="1383">3</text><text x="712" y="1421">2</text><text x="712" y="1459">1</text><text x="712" y="1496">0</text>
<text x="985" y="1345">4</text><text x="985" y="1383">3</text><text x="985" y="1421">2</text><text x="985" y="1459">1</text><text x="985" y="1496">0</text>
<text x="82" y="1310">750</text><text x="82" y="1318">500</text><text x="82" y="1328">250</text><text x="82" y="1339">100</text><text x="82" y="1355">0</text>
<text x="82" y="1367">300</text><text x="82" y="1387">200</text><text x="82" y="1404">100</text><text x="82" y="1422">0</text>
<text x="82" y="1448">0.75</text><text x="82" y="1462">0.50</text><text x="82" y="1476">0.25</text><text x="82" y="1493">0.00</text>
</g>
<g class="s6" text-anchor="middle">
<text x="804" y="1221">−0.5</text><text x="844" y="1221">−0.25</text><text x="883" y="1221">0</text><text x="922" y="1221">0.25</text><text x="961" y="1221">0.5</text>
<text x="1058" y="1221">−0.5</text><text x="1098" y="1221">−0.25</text><text x="1138" y="1221">0</text><text x="1177" y="1221">0.25</text><text x="1216" y="1221">0.5</text>
<text x="739" y="1510">−3</text><text x="780" y="1510">−1.5</text><text x="821" y="1510">0</text><text x="862" y="1510">1.5</text><text x="904" y="1510">3</text>
<text x="1012" y="1510">−3</text><text x="1053" y="1510">−1.5</text><text x="1095" y="1510">0</text><text x="1136" y="1510">1.5</text><text x="1178" y="1510">3</text>
<text x="1004" y="1109" text-anchor="start">0.34</text><text x="1004" y="1121" text-anchor="start">0.50</text><text x="1004" y="1134" text-anchor="start">0.67</text><text x="1004" y="1147" text-anchor="start">0.84</text><text x="1004" y="1159" text-anchor="start">1.00</text>
<text x="954" y="1394" text-anchor="start">0.34</text><text x="954" y="1407" text-anchor="start">0.50</text><text x="954" y="1420" text-anchor="start">0.67</text><text x="954" y="1433" text-anchor="start">0.84</text><text x="954" y="1446" text-anchor="start">1.00</text>
</g>

<!-- PanPlot -->
<g fill="#fff" stroke="#999" stroke-width="0.6"><rect x="85" y="1292" width="520" height="63"/><rect x="85" y="1360" width="520" height="62"/><rect x="85" y="1428" width="520" height="66"/></g>
<g stroke="#eee" stroke-width="0.5"><path d="M85 1308h520M85 1323h520M85 1339h520M85 1375h520M85 1391h520M85 1406h520M85 1444h520M85 1461h520M85 1477h520"/></g>
<rect x="88" y="1292" width="333" height="63" fill="url(#p1)"/><rect x="88" y="1360" width="333" height="62" fill="url(#p2)"/><rect x="88" y="1428" width="333" height="66" fill="url(#p3)"/>
<rect x="422" y="1292" width="182" height="63" fill="url(#g1)"/><rect x="422" y="1360" width="182" height="62" fill="url(#g2)"/><rect x="422" y="1428" width="182" height="66" fill="url(#g3)"/>
<line x1="421" y1="1292" x2="421" y2="1494" stroke="#555" stroke-dasharray="3,2" stroke-width="0.6"/>
<g font-size="5.2" text-anchor="end">
<text transform="translate(96,1497) rotate(-90)" fill="#e0700a">ACC−T (79)</text>
<text transform="translate(102.9,1497) rotate(-90)">BLCA−N (19)</text>
<text transform="translate(109.7,1497) rotate(-90)" fill="#e0700a">BLCA−T (407)</text>
<text transform="translate(116.6,1497) rotate(-90)">BRCA−N (112)</text>
<text transform="translate(123.4,1497) rotate(-90)" fill="#e0700a">BRCA−T (1092)</text>
<text transform="translate(130.3,1497) rotate(-90)">CESC−N (3)</text>
<text transform="translate(137.1,1497) rotate(-90)" fill="#e0700a">CESC−T (304)</text>
<text transform="translate(144,1497) rotate(-90)">CHOL−N (9)</text>
<text transform="translate(150.8,1497) rotate(-90)" fill="#e0700a">CHOL−T (36)</text>
<text transform="translate(157.7,1497) rotate(-90)">COAD−N (41)</text>
<text transform="translate(164.5,1497) rotate(-90)" fill="#e0700a">COAD−T (457)</text>
<text transform="translate(171.4,1497) rotate(-90)">ESCA−N (11)</text>
<text transform="translate(178.2,1497) rotate(-90)" fill="#e0700a">ESCA−T (184)</text>
<text transform="translate(185.1,1497) rotate(-90)" fill="#e0700a">GBM−T (166)</text>
<text transform="translate(191.9,1497) rotate(-90)">HNSC−N (44)</text>
<text transform="translate(198.8,1497) rotate(-90)" fill="#e0700a">HNSC−T (520)</text>
<text transform="translate(205.6,1497) rotate(-90)">KICH−N (25)</text>
<text transform="translate(212.5,1497) rotate(-90)" fill="#e0700a">KICH−T (66)</text>
<text transform="translate(219.4,1497) rotate(-90)">KIRC−N (72)</text>
<text transform="translate(226.2,1497) rotate(-90)" fill="#e0700a">KIRC−T (533)</text>
<text transform="translate(233.1,1497) rotate(-90)">KIRP−N (32)</text>
<text transform="translate(239.9,1497) rotate(-90)" fill="#e0700a">KIRP−T (290)</text>
<text transform="translate(246.8,1497) rotate(-90)" fill="#e0700a">LGG−T (515)</text>
<text transform="translate(253.6,1497) rotate(-90)">LIHC−N (50)</text>
<text transform="translate(260.5,1497) rotate(-90)" fill="#e0700a">LIHC−T (371)</text>
<text transform="translate(267.3,1497) rotate(-90)">LUAD−N (59)</text>
<text transform="translate(274.2,1497) rotate(-90)" fill="#e0700a">LUAD−T (515)</text>
<text transform="translate(281,1497) rotate(-90)">LUSC−N (51)</text>
<text transform="translate(287.9,1497) rotate(-90)" fill="#e0700a">LUSC−T (498)</text>
<text transform="translate(294.7,1497) rotate(-90)" fill="#e0700a">PAAD−T (179)</text>
<text transform="translate(301.6,1497) rotate(-90)" fill="#e0700a">PCPG−T (184)</text>
<text transform="translate(308.4,1497) rotate(-90)">PRAD−N (52)</text>
<text transform="translate(315.3,1497) rotate(-90)" fill="#e0700a">PRAD−T (497)</text>
<text transform="translate(322.1,1497) rotate(-90)">READ−N (10)</text>
<text transform="translate(329,1497) rotate(-90)" fill="#e0700a">READ−T (166)</text>
<text transform="translate(335.9,1497) rotate(-90)" fill="#e0700a">SARC−T (261)</text>
<text transform="translate(342.7,1497) rotate(-90)" fill="#e0700a">SKCM−T (471)</text>
<text transform="translate(349.6,1497) rotate(-90)">STAD−N (35)</text>
<text transform="translate(356.4,1497) rotate(-90)" fill="#e0700a">STAD−T (415)</text>
<text transform="translate(363.3,1497) rotate(-90)" fill="#e0700a">TGCT−T (150)</text>
<text transform="translate(370.1,1497) rotate(-90)">THCA−N (59)</text>
<text transform="translate(377,1497) rotate(-90)" fill="#e0700a">THCA−T (513)</text>
<text transform="translate(383.8,1497) rotate(-90)" fill="#e0700a">THYM−T (120)</text>
<text transform="translate(390.7,1497) rotate(-90)">UCEC−N (23)</text>
<text transform="translate(397.5,1497) rotate(-90)" fill="#e0700a">UCEC−T (181)</text>
<text transform="translate(404.4,1497) rotate(-90)" fill="#e0700a">UCS−T (57)</text>
<text transform="translate(411.2,1497) rotate(-90)" fill="#e0700a">UVM−T (80)</text>
<text transform="translate(425,1497) rotate(-90)">Adipose (98)</text>
<text transform="translate(431.8,1497) rotate(-90)">Adrenal (40)</text>
<text transform="translate(438.6,1497) rotate(-90)">Bladder (11)</text>
<text transform="translate(445.5,1497) rotate(-90)">Blood (393)</text>
<text transform="translate(452.4,1497) rotate(-90)">Brain (64)</text>
<text transform="translate(459.2,1497) rotate(-90)">Breast (66)</text>
<text transform="translate(466.1,1497) rotate(-90)">Cervix (6)</text>
<text transform="translate(472.9,1497) rotate(-90)">Colon (143)</text>
<text transform="translate(479.8,1497) rotate(-90)">Esophagus (292)</text>
<text transform="translate(486.6,1497) rotate(-90)">Fallopian (5)</text>
<text transform="translate(493.5,1497) rotate(-90)">Heart (131)</text>
<text transform="translate(500.3,1497) rotate(-90)">Kidney (28)</text>
<text transform="translate(507.2,1497) rotate(-90)">Liver (111)</text>
<text transform="translate(514,1497) rotate(-90)">Lung (288)</text>
<text transform="translate(520.9,1497) rotate(-90)">Muscle (396)</text>
<text transform="translate(527.7,1497) rotate(-90)">Nerve (278)</text>
<text transform="translate(534.6,1497) rotate(-90)">Ovary (88)</text>
<text transform="translate(541.4,1497) rotate(-90)">Pancreas (167)</text>
<text transform="translate(548.3,1497) rotate(-90)">Pituitary (103)</text>
<text transform="translate(555.2,1497) rotate(-90)">Prostate (100)</text>
<text transform="translate(562,1497) rotate(-90)">Salivary (55)</text>
<text transform="translate(568.9,1497) rotate(-90)">Skin (555)</text>
<text transform="translate(575.7,1497) rotate(-90)">Spleen (100)</text>
<text transform="translate(582.6,1497) rotate(-90)">Stomach (174)</text>
<text transform="translate(589.4,1497) rotate(-90)">Testis (165)</text>
<text transform="translate(596.3,1497) rotate(-90)">Thyroid (279)</text>
<text transform="translate(603.1,1497) rotate(-90)">Uterus (78)</text>
</g>
</svg>
</body></html>
